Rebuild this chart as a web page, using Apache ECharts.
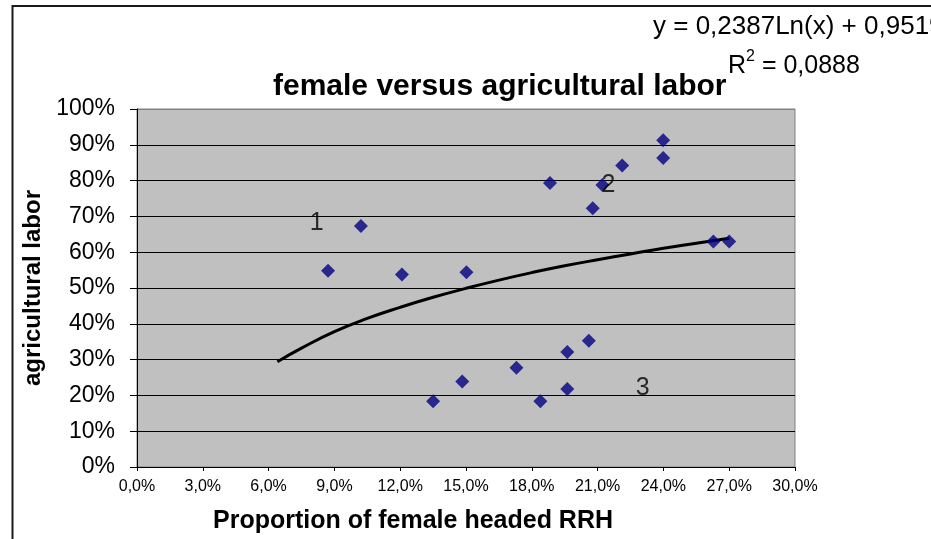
<!DOCTYPE html>
<html>
<head>
<meta charset="utf-8">
<script src="https://cdn.jsdelivr.net/npm/echarts@6/dist/echarts.min.js"></script>
<style>
html,body{margin:0;padding:0;background:#fff;}
#chart{width:931px;height:539px;}
</style>
</head>
<body>
<div id="chart"></div>
<script>
// Data (percent units)
const femaleHeaded = [8.71, 10.21, 12.08, 15.02, 18.83, 20.78, 21.22, 22.12, 23.99, 23.99, 26.28, 27.0, 13.5, 14.83, 17.3, 18.39, 19.62, 19.62, 20.6];
const agriLabor    = [54.8, 67.3, 53.8, 54.4, 79.3, 72.3, 78.8, 84.2, 91.3, 86.3, 63.0, 63.0, 18.4, 23.9, 27.7, 18.4, 32.1, 21.8, 35.3];

// Logarithmic trend line
const trendX = [6.4, 7.5, 9, 10.5, 12, 13.5, 15, 16.5, 18, 19.5, 21, 22.5, 24, 25.5, 27];
const trendY = [29.4, 33.2, 37.8, 41.5, 44.6, 47.4, 49.9, 52.2, 54.3, 56.2, 57.9, 59.5, 61.1, 62.5, 63.9];

// Cluster annotations
const clusterNames = ['1', '2', '3'];
const clusterX = [8.19, 21.5, 23.06];
const clusterY = [68.2, 78.8, 22.0];

// Tick labels
const xTickLabels = ['0,0%', '3,0%', '6,0%', '9,0%', '12,0%', '15,0%', '18,0%', '21,0%', '24,0%', '27,0%', '30,0%'];
const yTickLabels = ['0%', '10%', '20%', '30%', '40%', '50%', '60%', '70%', '80%', '90%', '100%'];

const chartTitle = 'female versus agricultural labor';
const equationText = 'y = 0,2387Ln(x) + 0,9519';
const rSquaredValue = '0,0888';

const FONT = "'Liberation Sans', Arial, sans-serif";

const chart = echarts.init(document.getElementById('chart'), null, {renderer: 'canvas'});

const splitColors = yTickLabels.map((_, i) => i === yTickLabels.length - 1 ? '#808080' : '#000000');

const option = {
  backgroundColor: '#ffffff',
  animation: false,
  title: [
    {
      text: chartTitle,
      left: 273, top: 72,
      padding: 0,
      textStyle: {fontFamily: FONT, fontSize: 30, fontWeight: 'bold', color: '#000'}
    },
    {
      text: equationText,
      left: 653, top: 14,
      padding: 0,
      textStyle: {fontFamily: FONT, fontSize: 26, fontWeight: 'normal', color: '#000'}
    },
    {
      text: '{n|R}{s|2}{n| = ' + rSquaredValue + '}',
      left: 728, top: 49,
      padding: 0,
      textStyle: {
        fontFamily: FONT, fontSize: 25, fontWeight: 'normal', color: '#000',
        rich: {
          n: {fontFamily: FONT, fontSize: 25, color: '#000', verticalAlign: 'bottom', lineHeight: 30},
          s: {fontFamily: FONT, fontSize: 16, color: '#000', verticalAlign: 'top', lineHeight: 30, padding: [0, 0, 12, 0]}
        }
      }
    }
  ],
  graphic: [
    {
      type: 'rect',
      silent: true,
      z: 100,
      shape: {x: 12.5, y: 6, width: 2000, height: 2000},
      style: {fill: 'none', stroke: '#1a1a1a', lineWidth: 2}
    }
  ],
  grid: {
    left: 137, right: 136, top: 109, bottom: 72,
    show: true,
    backgroundColor: '#C0C0C0',
    borderColor: '#808080',
    borderWidth: 1
  },
  xAxis: {
    type: 'value',
    min: 0, max: 30, interval: 3,
    name: 'Proportion of female headed RRH',
    nameLocation: 'middle',
    nameGap: 42,
    nameTextStyle: {fontFamily: FONT, fontSize: 25, fontWeight: 'bold', color: '#000', padding: [0, 106, 0, 0]},
    axisLine: {show: true, lineStyle: {color: '#000', width: 1}},
    axisTick: {show: true, length: 4, lineStyle: {color: '#000'}},
    splitLine: {show: false},
    axisLabel: {
      margin: 12,
      fontFamily: FONT, fontSize: 16, color: '#000',
      formatter: function (v) { return xTickLabels[Math.round(v / 3)]; }
    }
  },
  yAxis: {
    type: 'value',
    min: 0, max: 100, interval: 10,
    name: 'agricultural labor',
    nameLocation: 'middle',
    nameGap: 89,
    nameTextStyle: {fontFamily: FONT, fontSize: 24, fontWeight: 'bold', color: '#000'},
    axisLine: {show: true, lineStyle: {color: '#000', width: 1}},
    axisTick: {show: true, length: 7, lineStyle: {color: '#000'}},
    splitLine: {show: true, lineStyle: {color: splitColors, width: 1}},
    axisLabel: {
      margin: 22,
      fontFamily: FONT, fontSize: 23, color: '#000',
      formatter: function (v) { return yTickLabels[Math.round(v / 10)]; }
    }
  },
  series: [
    {
      type: 'line',
      name: 'trend',
      data: trendX.map((x, i) => [x, trendY[i]]),
      smooth: true,
      showSymbol: false,
      lineStyle: {color: '#000', width: 3},
      z: 2
    },
    {
      type: 'scatter',
      name: 'regions',
      data: femaleHeaded.map((x, i) => [x, agriLabor[i]]),
      symbol: 'diamond',
      symbolSize: 14,
      itemStyle: {color: '#000080'},
      z: 3
    },
    {
      type: 'scatter',
      name: 'clusters',
      data: clusterNames.map((n, i) => ({value: [clusterX[i], clusterY[i]], name: n})),
      symbolSize: 0,
      silent: true,
      label: {
        show: true,
        position: 'inside',
        formatter: function (p) { return p.name; },
        fontFamily: FONT, fontSize: 25, color: '#000'
      },
      z: 4
    }
  ]
};

chart.setOption(option);
</script>
</body>
</html>
